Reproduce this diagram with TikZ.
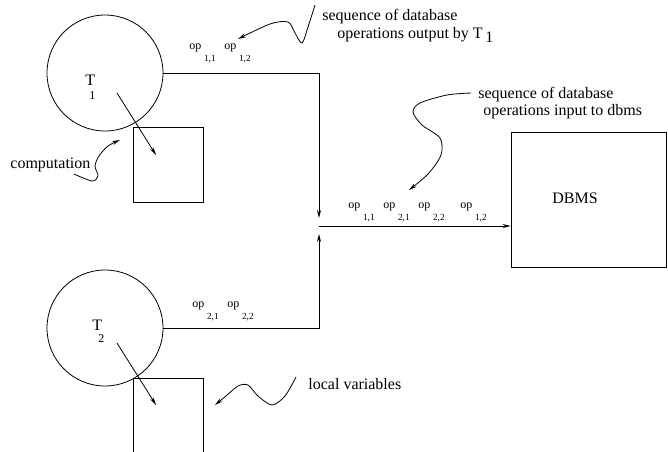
\documentclass[tikz,border=0pt]{standalone}
\usepackage{fontspec}
\setmainfont{Liberation Serif}
\usetikzlibrary{arrows.meta}

% op with its index set low, as on the arrows
\newcommand{\opname}[1]{{\fontsize{9}{9}\selectfont op}\,\raisebox{-9pt}{\fontsize{7}{7}\selectfont #1}}

\begin{document}
\begin{tikzpicture} [x = 0.75pt, y = -0.75pt,
		line width = 0.6pt,
		> = {Stealth[length = 6pt, width = 3pt]},
		every node/.style = {font = \fontsize{12}{13}\selectfont, inner sep = 0pt},
		trans/.style = {draw, circle, minimum size = 87pt},
		store/.style = {draw, minimum width = 52.5pt, minimum height = 56.25pt},
		txt/.style = {anchor = base west}]

	\useasboundingbox (0,0) rectangle (668,451);

	% transactions and their local storage
	\node (T1) at (105,73) [trans] {};
	\node (T2) at (105,328) [trans] {};
	\node (W1) at (168,164.5) [store] {};
	\node (W2) at (168,415.5) [store] {};
	\node (T1name) at (85,85) [txt] {T};
	\node (T1sub) at (89,99) [txt, font = \fontsize{9}{9}\selectfont] {1};
	\node (T2name) at (92,330) [txt] {T};
	\node (T2sub) at (98,342) [txt, font = \fontsize{9}{9}\selectfont] {2};
	\draw [->] (T1) ++(12,20) -- ++(39,62);
	\draw [->] (T2) ++(12,15) -- ++(39,62);

	\node (DB) at (588.5,199.5) [draw, minimum width = 116.25pt, minimum height = 101.25pt] {};
	\node (DBname) at (575,203) [anchor = base] {DBMS};

	% the two streams merge into one
	\coordinate (J) at (319,226);
	\coordinate (in1) at (319,218);
	\coordinate (in2) at (319,234);
	\draw [->] (T1.east) -| (in1);
	\draw [->] (T2.east) -| (in2);
	\draw [->] (J) -- (J -| DB.west);

	\node (o11) at (189,49) [txt] {\opname{1,1}};
	\node (o12) at (224,49) [txt] {\opname{1,2}};
	\node (p21) at (192,307) [txt] {\opname{2,1}};
	\node (p22) at (227,307) [txt] {\opname{2,2}};
	\node (m1) at (348,208) [txt] {\opname{1,1}};
	\node (m2) at (383,208) [txt] {\opname{2,1}};
	\node (m3) at (418,208) [txt] {\opname{2,2}};
	\node (m4) at (460,208) [txt] {\opname{1,2}};

	% notes
	\node (outA) at (322,20) [txt] {sequence of database};
	\node (outB) at (337,38) [txt] {operations output by T\,\raisebox{-3pt}{1}};
	\node (inA) at (478,98) [txt] {sequence of database};
	\node (inB) at (483,115) [txt] {operations input to dbms};
	\node (comp) at (10,168) [txt] {computation};
	\node (loc) at (308,389) [txt] {local variables};

	\draw [->] plot [smooth] coordinates {(315,5) (308,27) (302,43) (295,33) (288,22) (270,24) (238,39)};
	\draw [->] plot [smooth] coordinates {(471,93) (447,95) (420,103) (413,112) (422,125) (440,138) (441,155) (428,174) (409,190)};
	\draw [->] plot [smooth] coordinates {(74,174) (92,181) (98,176) (95,166) (99,156) (108,146) (120,140)};
	\draw [->] plot [smooth] coordinates {(296,377) (285,396) (272,405) (258,396) (248,385) (238,386) (226,396) (215,405)};

\end{tikzpicture}
\end{document}
